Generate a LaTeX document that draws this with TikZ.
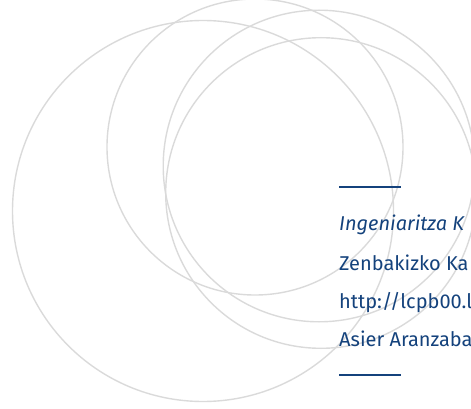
\documentclass[tikz,border=0pt]{standalone}
\usepackage{fontspec}
\setmainfont{Fira Sans}
\definecolor{ehublue}{RGB}{20,66,124}
\definecolor{ringgray}{RGB}{218,218,218}
\tikzset{
  ring/.style={draw=ringgray, line width=1.4pt},
  rule/.style={draw=ehublue, line width=2pt},
  txt/.style={anchor=base west, inner sep=0pt, text=ehublue, font=\fontsize{20}{22}\selectfont}
}
\begin{document}
\begin{tikzpicture}[x=1pt,y=-1pt]
\useasboundingbox (0,0) rectangle (471,409);
\clip (0,0) rectangle (471,409);
\draw[ring] (203,211) circle [radius=190.5pt];
\draw[ring] (255,147) circle [radius=148pt];
\draw[ring] (319,166) circle [radius=155.8pt];
\draw[ring] (321,193) circle [radius=155.3pt];
\coordinate (r1a) at (339,186.5);
\coordinate (r1b) at (401,186.5);
\coordinate (r2a) at (339,374.5);
\coordinate (r2b) at (401,374.5);
\draw[rule] (r1a) -- (r1b);
\draw[rule] (r2a) -- (r2b);
\node[txt] (t1) at (339,230) {\itshape Ingeniaritza K};
\node[txt] (t2) at (339,270.5) {Zenbakizko Ka};
\node[txt] (t3) at (339,308.5) {http://lcpb00.l};
\node[txt] (t4) at (339,346.5) {Asier Aranzaba};
\end{tikzpicture}
\end{document}
